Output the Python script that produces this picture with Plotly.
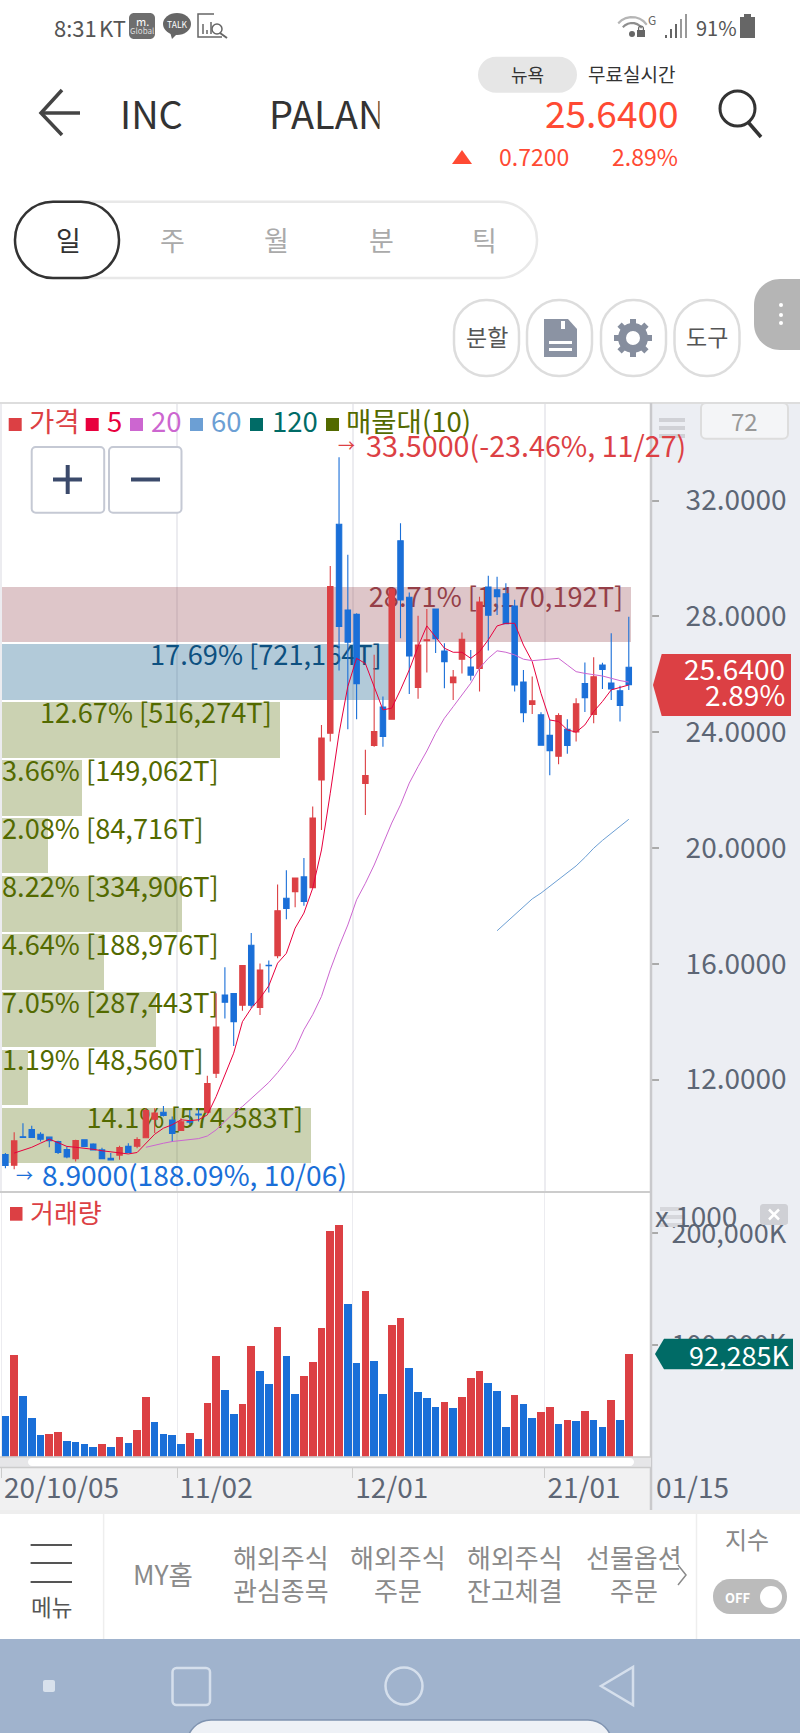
import math

import plotly.graph_objects as go

# daily candles (72 sessions, 20/10/05 .. 21/01/15)
opens = [9.41, 9.04, 10.02, 10.27, 10.11, 10.01, 9.86, 9.58, 9.27, 9.92, 9.77, 9.57, 9.28, 9.39, 9.69, 9.70, 9.99, 10.63,
         10.87, 10.60, 10.24, 10.55, 10.81, 10.87, 12.22, 14.92, 14.97, 14.57, 16.64, 14.49, 15.95, 16.28, 18.26, 18.49,
         19.00, 18.63, 22.35, 23.96, 31.18, 28.22, 28.07, 22.23, 23.54, 24.87, 24.45, 30.61, 28.66, 25.54, 27.16, 28.25,
         26.80, 25.71, 26.52, 26.25, 26.20, 29.01, 28.92, 28.78, 28.36, 25.73, 24.96, 24.60, 23.89, 23.17, 24.10, 24.01,
         25.68, 24.61, 26.32, 25.70, 25.43, 26.24]
highs = [9.46, 10.18, 10.49, 10.40, 10.18, 10.03, 9.89, 9.69, 9.92, 9.94, 9.80, 9.64, 9.46, 9.71, 9.80, 10.01, 11.01, 11.01,
         11.09, 10.72, 10.66, 10.95, 11.01, 12.13, 14.98, 15.88, 14.98, 15.94, 17.06, 16.01, 16.11, 18.74, 19.23, 18.96,
         19.65, 21.43, 24.25, 29.74, 33.50, 30.13, 28.11, 23.39, 26.67, 25.23, 28.94, 31.22, 28.82, 28.02, 28.25, 28.25,
         27.07, 26.15, 27.44, 26.84, 28.68, 29.40, 29.37, 29.14, 28.57, 26.15, 25.92, 24.69, 24.42, 24.65, 24.45, 25.17,
         26.41, 26.59, 26.40, 27.42, 25.60, 27.99]
lows = [8.94, 8.90, 9.99, 10.00, 9.86, 9.66, 9.43, 9.28, 9.17, 9.69, 9.55, 9.26, 9.20, 9.23, 9.46, 9.63, 9.97, 10.15,
        10.72, 9.84, 10.22, 10.44, 10.55, 10.84, 12.05, 14.11, 13.16, 14.38, 14.46, 14.23, 15.01, 16.19, 17.54, 17.95,
        18.00, 18.61, 20.62, 23.68, 26.13, 24.10, 24.45, 21.14, 23.50, 23.50, 24.45, 27.24, 25.32, 25.15, 26.06, 26.73,
        25.52, 25.11, 26.03, 25.78, 25.40, 26.82, 28.05, 27.74, 25.40, 24.34, 24.63, 23.54, 22.51, 22.89, 23.25, 23.68,
        24.70, 24.31, 25.49, 25.11, 24.37, 25.46]
closes = [9.03, 9.88, 10.00, 10.00, 9.94, 9.89, 9.48, 9.33, 9.89, 9.69, 9.57, 9.27, 9.22, 9.65, 9.48, 9.93, 10.93, 10.84,
          10.76, 10.14, 10.54, 10.53, 10.78, 11.86, 13.81, 14.67, 14.00, 15.94, 14.57, 15.78, 15.93, 17.83, 17.91, 18.96,
          18.15, 21.03, 23.80, 29.03, 27.65, 27.11, 25.67, 22.50, 24.02, 23.85, 28.94, 28.57, 26.63, 27.01, 27.19, 27.23,
          26.43, 25.90, 27.21, 25.97, 28.49, 28.04, 28.68, 27.75, 25.63, 24.67, 25.08, 23.55, 23.36, 24.57, 23.54, 24.98,
          25.19, 25.91, 26.17, 25.49, 24.92, 25.64]

ma5 = [None, 9.46, 9.55, 9.66, 9.80, 9.94, 9.82, 9.69, 9.66, 9.63, 9.59, 9.54, 9.51, 9.46, 9.43, 9.48, 9.80, 10.11,
       10.32, 10.44, 10.61, 10.58, 10.61, 10.78, 11.41, 12.16, 12.91, 14.00, 14.46, 14.81, 15.24, 16.02, 16.36, 17.23,
       17.75, 18.61, 19.93, 21.89, 23.96, 25.58, 26.55, 26.37, 25.58, 24.77, 24.83, 25.46, 26.15, 26.96, 27.67, 27.30,
       26.90, 26.76, 26.76, 26.55, 26.78, 27.19, 27.67, 27.76, 27.76, 27.01, 26.44, 25.34, 24.42, 24.37, 24.08, 24.00,
       24.25, 24.71, 25.06, 25.46, 25.55, 25.63]
ma20 = [None] * 16 + [9.66, 9.74, 9.80, 9.86, 9.89, 9.94, 9.96, 10.05, 10.26, 10.55, 10.84, 11.07, 11.36, 11.62, 11.90,
                      12.24, 12.62, 13.05, 13.72, 14.24, 14.87, 15.79, 16.60, 17.34, 18.21, 18.78, 19.41, 20.11, 20.86,
                      21.49, 22.24, 22.81, 23.35, 23.96, 24.48, 24.88, 25.29, 25.69, 26.21, 26.55, 26.81, 26.76, 26.67,
                      26.52, 26.47, 26.50, 26.53, 26.55, 26.32, 26.09, 26.03, 25.98, 25.94, 25.86, 25.78, 25.73]
ma60 = [None] * 56 + [17.14, 17.42, 17.71, 17.98, 18.24, 18.44, 18.67, 18.90, 19.13, 19.38, 19.67, 19.99, 20.26, 20.51,
                      20.74, 20.99]

# volume in K
volume = [36100, 90700, 54300, 34900, 19400, 20300, 21800, 13700, 12800, 11000, 9000, 11000, 9000, 17600, 12200, 23600,
          53400, 30700, 20300, 19400, 11600, 21500, 15800, 48400, 89900, 60000, 37900, 46900, 99100, 76400, 65100,
          116100, 89900, 56100, 71900, 84500, 115200, 202000, 207500, 137000, 84200, 148700, 85400, 55800, 118200,
          124500, 79400, 57600, 52500, 44500, 49000, 43600, 53400, 70700, 76400, 66000, 58500, 26300, 55500, 47200,
          34300, 39700, 44800, 29000, 32500, 31900, 41200, 32500, 26900, 51000, 32800, 92285]
volume_up = [1, 5, 6, 11, 13, 15, 16, 21, 23, 24, 27, 28, 31, 34, 35, 36, 37, 38, 41, 44, 45, 50, 52, 53, 54, 58, 61,
             62, 64, 66, 69, 71]

# 매물대 (volume profile)
profile_pct = [28.71, 17.69, 12.67, 3.66, 2.08, 8.22, 4.64, 7.05, 1.19, 14.1]
profile_amount = ["1,170,192T", "721,164T", "516,274T", "149,062T", "84,716T", "334,906T", "188,976T", "287,443T",
                  "48,560T", "574,583T"]
profile_mid = [28.07, 26.07, 24.08, 22.08, 20.08, 18.07, 16.07, 14.07, 12.07, 10.07]
profile_fill = ["rgba(145,65,75,.3)", "rgba(0,80,130,.3)"] + ["rgba(83,106,0,.3)"] * 8
profile_text = ["#953f48", "#0d5080"] + ["#536a00"] * 8

date_pos = [-0.45, 19.55, 39.55, 61.45]
date_labels = ["20/10/05", "11/02", "12/01", "21/01"]
vol_ticks = [100000, 200000]
vol_tick_labels = ["100,000K", "200,000K"]

FONT = "Noto Sans CJK KR"
RED = "#dc4044"
BLUE = "#1a6fd8"
W, H = 800, 1733
x_idx = list(range(len(closes)))


def X(v):
    return v / W


def Y(v):
    return 1 - v / H


shapes = []
notes = []


def rect(x0, y0, x1, y1, fill, line=None, lw=0, layer="above"):
    shapes.append(dict(type="rect", xref="paper", yref="paper", x0=X(x0), y0=Y(y0), x1=X(x1), y1=Y(y1),
                       fillcolor=fill, line=dict(color=line or fill, width=lw), layer=layer))


def seg(x0, y0, x1, y1, color, lw=2):
    shapes.append(dict(type="line", xref="paper", yref="paper", x0=X(x0), y0=Y(y0), x1=X(x1), y1=Y(y1),
                       line=dict(color=color, width=lw), layer="above"))


def poly(pts, fill=None, line=None, lw=0, closed=True):
    p = "M" + " L".join("%.5f,%.5f" % (X(a), Y(b)) for a, b in pts) + (" Z" if closed else "")
    shapes.append(dict(type="path", xref="paper", yref="paper", path=p, fillcolor=fill or "rgba(0,0,0,0)",
                       line=dict(color=line or "rgba(0,0,0,0)", width=lw), layer="above"))


def rrect(x0, y0, x1, y1, r, fill=None, line=None, lw=0):
    k = r * 0.448

    def f(a, b):
        return "%.5f,%.5f" % (X(a), Y(b))

    p = ("M" + f(x0 + r, y0) + " L" + f(x1 - r, y0) + " C" + f(x1 - k, y0) + " " + f(x1, y0 + k) + " " + f(x1, y0 + r)
         + " L" + f(x1, y1 - r) + " C" + f(x1, y1 - k) + " " + f(x1 - k, y1) + " " + f(x1 - r, y1)
         + " L" + f(x0 + r, y1) + " C" + f(x0 + k, y1) + " " + f(x0, y1 - k) + " " + f(x0, y1 - r)
         + " L" + f(x0, y0 + r) + " C" + f(x0, y0 + k) + " " + f(x0 + k, y0) + " " + f(x0 + r, y0) + " Z")
    shapes.append(dict(type="path", xref="paper", yref="paper", path=p, fillcolor=fill or "rgba(0,0,0,0)",
                       line=dict(color=line or "rgba(0,0,0,0)", width=lw), layer="above"))


def oval(x0, y0, x1, y1, fill=None, line=None, lw=0):
    shapes.append(dict(type="circle", xref="paper", yref="paper", x0=X(x0), y0=Y(y0), x1=X(x1), y1=Y(y1),
                       fillcolor=fill or "rgba(0,0,0,0)", line=dict(color=line or "rgba(0,0,0,0)", width=lw),
                       layer="above"))


def txt(x, y, s, size, color, anchor="left", bg=None):
    notes.append(dict(xref="paper", yref="paper", x=X(x), y=Y(y), text=s, showarrow=False, xanchor=anchor,
                      yanchor="middle", borderpad=0, bgcolor=bg, font=dict(family=FONT, size=size, color=color)))


# chart frame
rect(651, 403, 800, 1510, "#eceef3", layer="below")
rect(0, 1467, 651, 1510, "#f1f1f2", layer="below")
rect(0, 1510, 800, 1514, "#eeeeee", layer="below")
seg(0, 403, 800, 403, "#dddddd", 2)
seg(0, 1192, 651, 1192, "#cccccc", 2)
seg(651, 403, 651, 1510, "#c9c9cc", 2.5)
rect(0, 1457, 651, 1467, "#e6e6e8")
rrect(28, 1458, 634, 1466, 4, fill="#ffffff")
seg(0, 1457, 651, 1457, "#cccccc", 1.5)
seg(0, 1467.5, 651, 1467.5, "#cccccc", 1.5)

# legend
legend = [(8.7, 28, "가격", RED, RED), (85.7, 106, "5", "#e8003d", "#e8003d"), (130, 150, "20", "#cc66d0", "#cc66d0"),
          (190, 210, "60", "#6c9fd4", "#6c9fd4"), (250, 271, "120", "#006b66", "#006b66"),
          (326, 345, "매물대(10)", "#536a00", "#536a00")]
for sx, tx, name, sc, tc in legend:
    rect(sx, 418, sx + 13, 431, sc)
    txt(tx, 420, name, 27.5, tc)
txt(337, 445, "→", 17, RED)
txt(365, 444, "33.5000(-23.46%, 11/27)", 28.7, RED)
txt(15, 1174, "→", 17, BLUE)
txt(41, 1173, "8.9000(188.09%, 10/06)", 28.2, BLUE)

# zoom buttons
for bx in (31.7, 109):
    rrect(bx, 447, bx + 72.5, 512.7, 4, fill="#ffffff", line="#c5c9d4", lw=2)
seg(53, 479.5, 82, 479.5, "#3b4a6b", 4)
seg(67.7, 465, 67.7, 494, "#3b4a6b", 4)
seg(131, 479.5, 160, 479.5, "#3b4a6b", 4)

# right side widgets
for hy in (420, 428, 436):
    seg(659, hy, 685, hy, "#d0d1d6", 4)
rrect(701, 403, 788, 438.7, 5, fill="#f4f5f7", line="#dddddd", lw=2)
txt(744.5, 420, "72", 24, "#999999", "center")

poly([(653, 685), (661.7, 654), (791, 654), (791, 716), (661.7, 716)], fill=RED)
txt(786, 668, "25.6400", 28, "#ffffff", "right")
txt(786, 694, "2.89%", 28, "#ffffff", "right")

rect(10, 1207, 22.5, 1220.7, RED)
txt(29, 1211, "거래량", 26, RED)
for hy in (1209, 1217, 1225):
    seg(660, hy, 685, hy, "#d6d7dc", 4)
txt(654, 1215, "x 1000", 28, "#5d6675")
rrect(760, 1204, 788, 1225, 3, fill="#cfd0d5")
seg(769, 1209.5, 779, 1219.5, "#ffffff", 2.5)
seg(779, 1209.5, 769, 1219.5, "#ffffff", 2.5)
poly([(655, 1354), (664, 1338.7), (793, 1338.7), (793, 1369.3), (664, 1369.3)], fill="#006b66")
txt(790, 1354, "92,285K", 27, "#ffffff", "right")
txt(655, 1486, "01/15", 28, "#5d6675")

# status bar
txt(53, 27, "8:31", 22, "#555555")
txt(98, 27, "KT", 22, "#555555")
rrect(129, 13, 155, 39, 5, fill="#6e6e6e")
txt(142, 21, "m.", 11, "#ffffff", "center")
txt(142, 31, "Global", 8, "#dddddd", "center")
oval(163, 13, 191, 35, fill="#666666")
poly([(170, 32), (172, 39), (178, 33)], fill="#666666")
txt(177, 24, "TALK", 8.5, "#ffffff", "center")
poly([(214, 14), (198, 14), (198, 37), (222, 37)], line="#666666", lw=1.5, closed=False)
for bx, by in ((203, 24), (207, 30), (211, 22)):
    seg(bx, by, bx, 34, "#666666", 1.5)
oval(212, 24, 222, 34, line="#666666", lw=1.5)
seg(220, 33, 227, 38, "#666666", 2)
# wifi arcs
for rad, col in ((18, "#b5b5b5"), (12, "#8e8e8e")):
    poly([(632 + rad * math.cos(math.radians(a)), 35 - rad * math.sin(math.radians(a))) for a in range(35, 150, 15)],
         line=col, lw=2.2, closed=False)
oval(629, 31, 635, 37, fill="#666666")
rect(637, 30, 645, 37, "#666666")
oval(638.5, 26, 643.5, 32, line="#666666", lw=1.2)
txt(652, 19, "G", 12, "#666666", "center")
for i, bh in enumerate((3, 9, 14, 19, 24)):
    seg(666 + i * 5, 38, 666 + i * 5, 38 - bh, "#999999" if i > 2 else "#666666", 2)
txt(695, 27, "91%", 20, "#555555")
rect(740, 17, 755, 38, "#666666")
rect(744, 14, 751, 17, "#666666")

# header
rrect(478, 56.7, 577, 92.7, 18, fill="#e6e6e6")
txt(527, 74, "뉴욕", 18, "#333333", "center")
txt(587, 74, "무료실시간", 19, "#333333")
poly([(62, 90), (41, 113), (62, 135)], line="#444444", lw=3.5, closed=False)
seg(41, 113, 80, 113, "#444444", 3.5)
txt(119, 112, "INC", 38, "#333333")
txt(268, 112, "PALAN", 38, "#333333")
txt(379, 112, "&nbsp;&nbsp;&nbsp;&nbsp;", 38, "#ffffff", bg="#ffffff")
txt(680, 112, "25.6400", 37, "#ff4a33", "right")
poly([(452, 164), (462, 150), (472, 164)], fill="#ff4a33")
txt(498, 156, "0.7200", 23, "#ff4a33")
txt(679, 156, "2.89%", 23, "#ff4a33", "right")
oval(720, 91, 755, 126, line="#333333", lw=3)
seg(748, 122, 761, 137, "#333333", 3.5)

# period tabs
rrect(15, 201.7, 537, 278, 38, fill="#ffffff", line="#e8e8e8", lw=2.5)
rrect(15, 201.7, 119, 278, 38, fill="#ffffff", line="#333333", lw=2.5)
for tx, lab, col in ((68, "일", "#333333"), (172, "주", "#aaaaaa"), (276.5, "월", "#aaaaaa"), (381, "분", "#aaaaaa"),
                     (485, "틱", "#aaaaaa")):
    txt(tx, 239, lab, 27, col, "center")

# tool buttons
for bx in (454, 527, 601, 674.5):
    rrect(bx, 300, bx + 65, 376, 32, fill="#ffffff", line="#dddddd", lw=2.5)
txt(486.5, 336, "분할", 23, "#555555", "center")
txt(707, 336, "도구", 23, "#555555", "center")
poly([(544, 319), (568, 319), (577, 329), (577, 357), (544, 357)], fill="#8b93a3")
rect(549, 341, 572, 344, "#ffffff")
rect(549, 348, 572, 351, "#ffffff")
rect(561, 321, 565, 329, "#ffffff")
# gear
oval(622, 327, 644, 349, line="#868e9e", lw=8)
for a in range(0, 360, 45):
    ca, sa = math.cos(math.radians(a)), math.sin(math.radians(a))
    seg(633 + 13 * ca, 338 + 13 * sa, 633 + 19 * ca, 338 + 19 * sa, "#868e9e", 6)
rrect(754, 279, 830, 350, 26, fill="#b5b5b5")
for dy in (305, 315, 323):
    oval(779, dy - 2, 783, dy + 2, fill="#ffffff")

# bottom menu
seg(103.6, 1514, 103.6, 1639, "#eeeeee", 1.5)
seg(696.5, 1514, 696.5, 1639, "#eeeeee", 1.5)
for hy in (1545, 1563, 1582):
    seg(30.6, hy, 72, hy, "#555555", 2)
txt(51, 1606, "메뉴", 22.5, "#555555", "center")
txt(163, 1573, "MY홈", 26.5, "#8a8a8a", "center")
for cx, l1, l2 in ((280.6, "해외주식", "관심종목"), (398, "해외주식", "주문"), (515, "해외주식", "잔고체결"), (633.7, "선물옵션", "주문")):
    txt(cx, 1556.5, l1, 26, "#8a8a8a", "center")
    txt(cx, 1589, l2, 26, "#8a8a8a", "center")
poly([(678, 1565), (686, 1575), (678, 1585)], line="#8a8a8a", lw=1.5, closed=False)
txt(747, 1538, "지수", 24, "#888888", "center")
rrect(713, 1579, 787, 1614, 17, fill="#bbbbbb")
oval(760, 1586, 782, 1608, fill="#ffffff")
txt(738, 1597, "<b>OFF</b>", 13, "#ffffff", "center")

# android nav bar
rect(0, 1639, 800, 1733, "#a0b3cd")
rrect(43, 1680, 55, 1692, 2, fill="#d8e1ec")
rrect(172.5, 1668, 210, 1705, 4, line="#d5dfec", lw=2.5)
oval(385.5, 1667.5, 422.5, 1704.5, line="#d5dfec", lw=2.5)
poly([(601, 1686), (633, 1667), (633, 1705)], line="#d5dfec", lw=2.5)
rrect(187, 1720, 612, 1770, 24, fill="#eef1f6", line="#7f93b0", lw=1.5)

fig = go.Figure()

# profile bars + their labels sit under the candles, so they go on the base x axis
fig.add_trace(go.Bar(x=profile_pct, y=profile_mid, orientation="h", width=1.92, marker=dict(color=profile_fill, line_width=0),
                     xaxis="x", yaxis="y", hoverinfo="skip"))
for pct, amt, mid, col in zip(profile_pct, profile_amount, profile_mid, profile_text):
    big = pct >= 10
    fig.add_trace(go.Scatter(x=[pct - 0.35 if big else 0.0], y=[mid + 0.48], mode="text",
                             text=["%s%% [%s]" % (pct, amt)], textposition="middle left" if big else "middle right",
                             textfont=dict(family=FONT, size=27.2, color=col), xaxis="x", yaxis="y", hoverinfo="skip"))

fig.add_trace(go.Candlestick(x=x_idx, open=opens, high=highs, low=lows, close=closes, xaxis="x2", yaxis="y",
                             increasing=dict(line=dict(color=RED, width=1.1), fillcolor=RED),
                             decreasing=dict(line=dict(color=BLUE, width=1.1), fillcolor=BLUE),
                             whiskerwidth=0, hoverinfo="skip"))
for vals, col in ((ma5, "#e8003d"), (ma20, "#cc66d0"), (ma60, "#6c9fd4")):
    fig.add_trace(go.Scatter(x=x_idx, y=vals, mode="lines", line=dict(color=col, width=1), xaxis="x2", yaxis="y",
                             hoverinfo="skip"))

fig.add_trace(go.Bar(x=x_idx, y=volume, width=0.87, xaxis="x3", yaxis="y2", hoverinfo="skip",
                     marker=dict(color=[RED if i in volume_up else BLUE for i in x_idx], line_width=0)))

dom_x = [0, 651 / W]
fig.update_layout(
    width=W, height=H, autosize=False, margin=dict(l=0, r=0, t=0, b=0), showlegend=False,
    paper_bgcolor="#ffffff", plot_bgcolor="rgba(0,0,0,0)", boxgap=0.12, bargap=0,
    font=dict(family=FONT), shapes=shapes, annotations=notes,
    xaxis=dict(domain=dom_x, range=[-0.0913, 29.63], visible=False, anchor="y"),
    xaxis2=dict(domain=dom_x, range=[-0.615, 73.53], overlaying="x", anchor="y", side="bottom", rangeslider=dict(visible=False),
                tickvals=date_pos, showticklabels=False, ticks="", showgrid=True, gridcolor="#ececf0", gridwidth=1.5,
                zeroline=False, showline=False),
    xaxis3=dict(domain=dom_x, range=[-0.615, 73.53], anchor="y2", tickvals=date_pos, ticktext=date_labels,
                ticklabelposition="outside right", ticks="outside", ticklen=20, tickwidth=1, tickcolor="#cccccc",
                ticklabelstandoff=7, ticklabelshift=2, tickfont=dict(family=FONT, size=28, color="#5d6675"),
                showgrid=True, gridcolor="#ececf0", gridwidth=1, zeroline=False, showline=False),
    yaxis=dict(domain=[Y(1191), Y(403)], range=[8.15, 35.37], anchor="x", side="right", tickvals=[12, 16, 20, 24, 28, 32],
               tickformat=".4f", ticks="outside", ticklen=7, tickwidth=1.5, tickcolor="#aaaaaa", ticklabelstandoff=21,
               tickfont=dict(family=FONT, size=28, color="#5d6675"), showgrid=False, zeroline=False, showline=False),
    yaxis2=dict(domain=[Y(1456.7), Y(1192)], range=[0, 237000], anchor="x3", side="right", tickvals=vol_ticks,
                ticktext=vol_tick_labels, ticks="outside", ticklen=6, tickwidth=1.5, tickcolor="#aaaaaa",
                ticklabelstandoff=8, tickfont=dict(family=FONT, size=27, color="#5d6675"), showgrid=False,
                zeroline=False, showline=False),
)

fig.write_html("out.html", config=dict(displayModeBar=False),
               post_script="document.body.style.margin='0';document.body.style.overflow='hidden';")
